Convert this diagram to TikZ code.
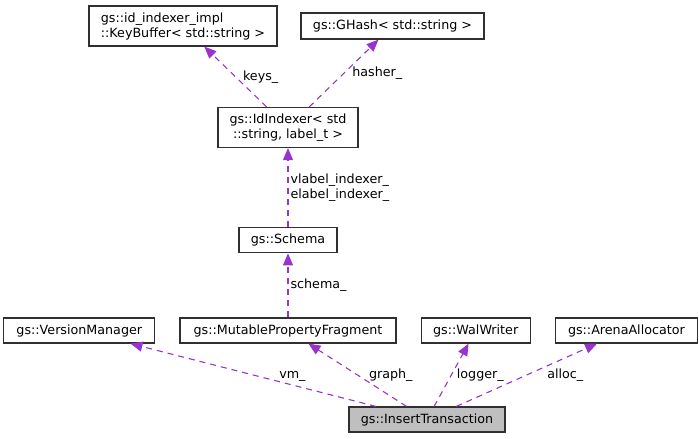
\documentclass[tikz,border=0pt]{standalone}
\usepackage{fontspec}
\setmainfont{DejaVu Sans}
\usetikzlibrary{arrows.meta,positioning}
\definecolor{edgepurple}{RGB}{154,50,205}
\definecolor{boxline}{RGB}{48,48,48}
\definecolor{boxgray}{RGB}{191,191,191}

\begin{document}
\begin{tikzpicture}[x=1pt, y=-1pt, >={Triangle[length=12pt,width=10pt]},
	node distance=64pt and 24pt, font=\fontsize{12.7}{15}\selectfont]
		
		\tikzstyle{cls}=[draw=boxline, line width=1.2pt, fill=white, inner sep=3pt,
		minimum height=25pt, align=center]
		\tikzstyle{member}=[->, edgepurple, line width=1.1pt, dash pattern=on 6pt off 5pt]
		\tikzstyle{lbl}=[inner sep=2pt, text=black, align=left]
		
		\useasboundingbox (0,0) rectangle (699,439);
		
		% Member classes, bottom row
		\node[cls, minimum width=216pt] (mpf) at (288,330.5) {gs::MutablePropertyFragment};
		\node[cls, minimum width=151pt, left=of mpf] (vm) {gs::VersionManager};
		\node[cls, minimum width=109pt, right=of mpf] (ww) {gs::WalWriter};
		\node[cls, minimum width=142pt, right=of ww] (aa) {gs::ArenaAllocator};
		
		% Schema chain
		\node[cls, minimum width=98pt, above=of mpf] (sch) {gs::Schema};
		\node[cls, minimum width=140pt, minimum height=40pt, above=79pt of sch] (idx)
		{gs::IdIndexer< std\\::string, label\_t >};
		\node[cls, minimum width=188pt, minimum height=40pt, align=left] (kb) at (183,26)
		{gs::id\_indexer\_impl\\::KeyBuffer< std::string >};
		\node[cls, minimum width=183pt, minimum height=26pt] (gh) at (392.5,26)
		{gs::GHash< std::string >};
		
		% The class itself
		\node[cls, fill=boxgray, minimum width=156pt] (it) at (427,419.5)
		{gs::InsertTransaction};
		
		% Member arrows
		\draw[member] (idx) -- node[lbl, right=5pt] {keys\_} (kb);
		\draw[member] (idx) -- node[lbl, right=6pt] {hasher\_} (gh);
		\draw[member] (sch) -- node[lbl, right] {vlabel\_indexer\_\\elabel\_indexer\_} (idx);
		\draw[member] (mpf) -- node[lbl, right] {schema\_} (sch);
		\draw[member] (it) -- node[lbl, pos=0.34, above=1pt] {vm\_} (vm);
		\draw[member] (it) -- node[lbl, right=9pt] {graph\_} (mpf);
		\draw[member] (it) -- node[lbl, right=3pt] {logger\_} (ww);
		\draw[member] (it) -- node[lbl, right=18pt] {alloc\_} (aa);
		
		\end{tikzpicture}
\end{document}
